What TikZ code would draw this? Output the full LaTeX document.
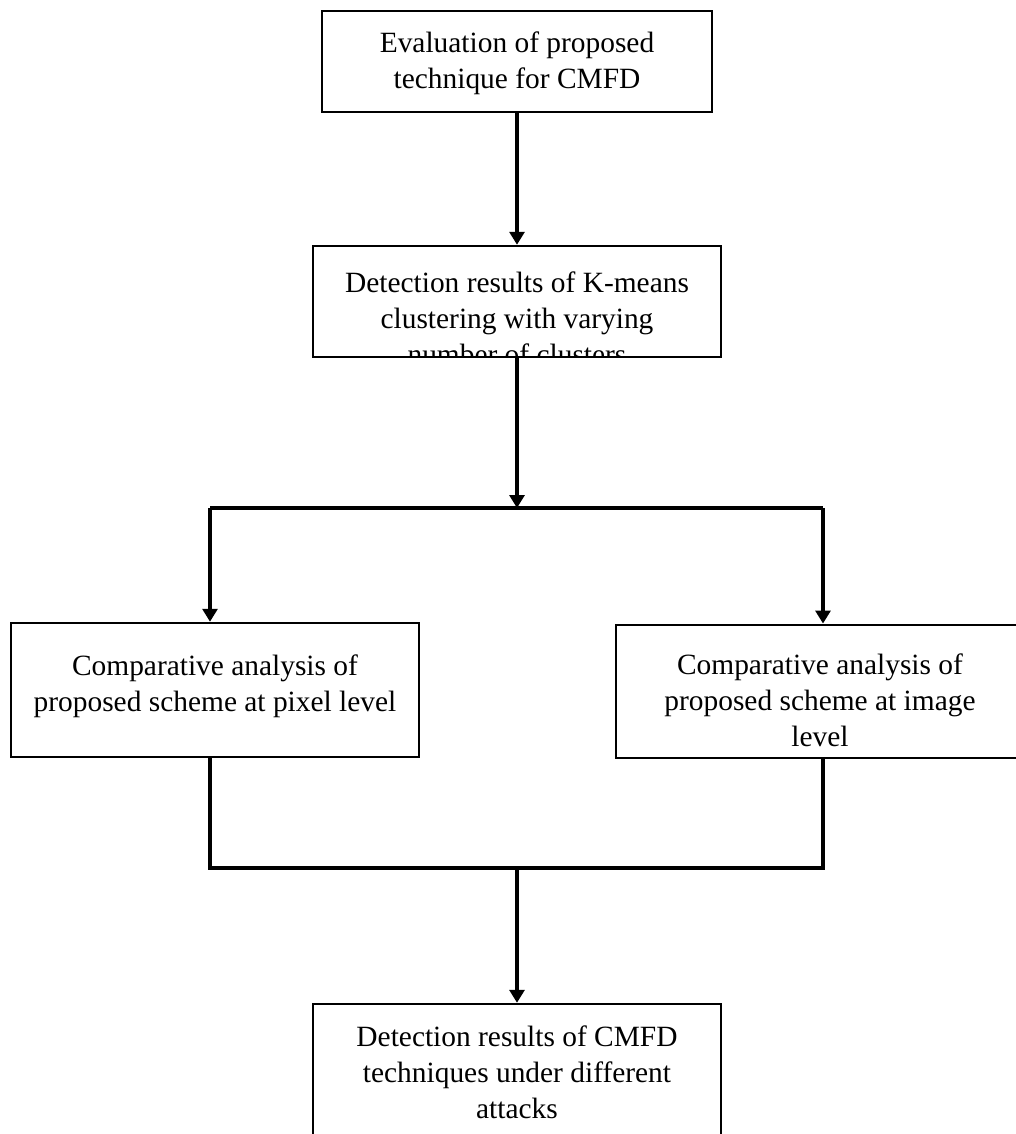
\documentclass[tikz,border=0pt]{standalone}
\usepackage{fontspec}
\setmainfont{Liberation Serif}
\usetikzlibrary{positioning,arrows.meta}

\tikzset{textpad/.store in=\textpad, textpad=7.6pt}

\begin{document}
\begin{tikzpicture}[
  x=0.408pt, y=0.408pt,
  stepbox/.style={draw, line width=1pt, inner sep=0pt, minimum width=166.5pt,
    path picture={\node[anchor=north, inner sep=0pt, minimum width=0pt, minimum height=0pt, align=center,
      font=\fontsize{12}{14.7}\selectfont] at ([yshift=-\textpad]path picture bounding box.north) {#1};}},
  arrow/.style={-{Triangle[width=6.1pt, length=5.3pt]}, line width=1.3pt},
  link/.style={line width=1.3pt}
]
\useasboundingbox (0,0) rectangle (1016,-1134);
\clip (0,0) rectangle (1016,-1134);

\node[stepbox={Evaluation of proposed\\technique for CMFD}, textpad=8pt, minimum width=159.1pt, minimum height=41.2pt] (eval) at (517,-61.5) {};
\node[stepbox={Detection results of K-means\\clustering with varying\\number of clusters}, textpad=10pt, minimum height=45.3pt] (kmeans) at (517,-301.5) {};
\node[stepbox={Comparative analysis of\\proposed scheme at pixel level}, textpad=12.5pt, minimum height=54.7pt] (pixel) at (215,-690) {};
\node[stepbox={Comparative analysis of\\proposed scheme at image\\level}, textpad=11.3pt, line width=1.15pt, minimum height=54.3pt] (image) at (820,-691.5) {};
\node[stepbox={Detection results of CMFD\\techniques under different\\attacks}, textpad=8.4pt, minimum height=61.2pt] (attack) at (517,-1079) {};

\coordinate (split) at (517,-508);
\coordinate (splitL) at (210,-508);
\coordinate (splitR) at (823,-508);
\coordinate (join) at (517,-868);
\coordinate (joinL) at (210,-868);
\coordinate (joinR) at (823,-868);

\draw[arrow] (eval) -- (kmeans);
\draw[arrow] (kmeans) -- (split);
\draw[link] (splitL) -- (splitR);
\draw[arrow] (splitL) -- (splitL |- pixel.north);
\draw[arrow] (splitR) -- (splitR |- image.north);
\draw[link] (splitL |- pixel.south) -- (joinL) -- (joinR) -- (splitR |- image.south);
\draw[arrow] (join) -- (attack);
\end{tikzpicture}
\end{document}
